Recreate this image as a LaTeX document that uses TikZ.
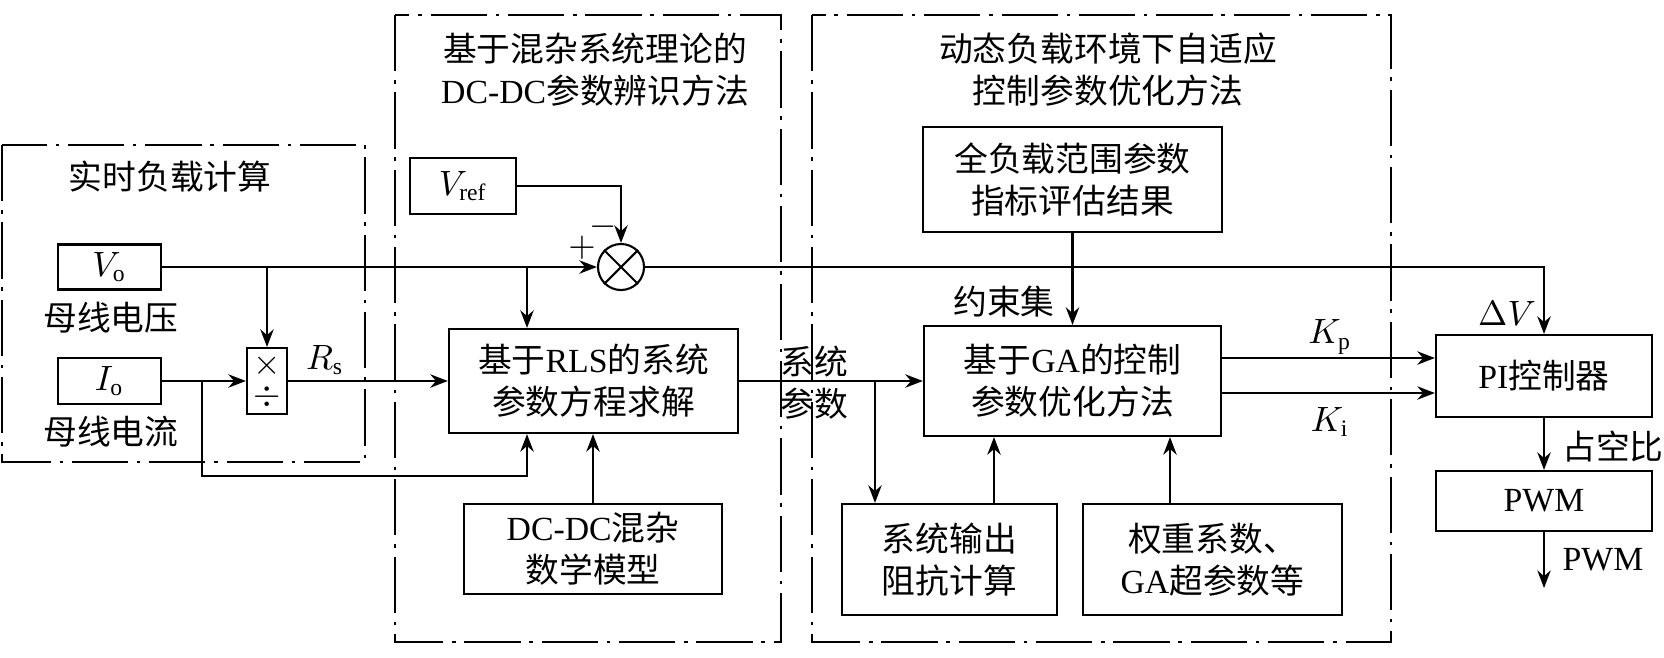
\documentclass[tikz,border=0pt]{standalone}
\usepackage{fontspec}
\setmainfont{Liberation Serif}
\newfontfamily\zhfont{Noto Sans CJK SC}
\newcommand{\en}[1]{{\rmfamily #1}}
\usetikzlibrary{arrows.meta}

\begin{document}
\begin{tikzpicture}[x=0.01cm, y=-0.01cm, line width=0.6pt, font=\fontsize{9.6pt}{11.9pt}\zhfont,
block/.style={draw, inner sep=0pt, align=center},
sum node/.style={circle, draw, minimum size=0.46cm, inner sep=0pt},
dashbox/.style={dash pattern=on 16pt off 2.5pt on 1pt off 2.5pt},
arr/.style={-{Stealth[length=5pt,width=3.8pt]}}]
\useasboundingbox (0,0) rectangle (1664,657);
% dash-dot areas
\draw[dashbox] (2,145) rectangle (365,462);
\draw[dashbox] (395,15) rectangle (781,642);
\draw[dashbox] (812,15) rectangle (1391,642);
\begin{scope}
\node (t1) at (170,177) {实时负载计算};
\node[align=center] (t2) at (595,70) {基于混杂系统理论的\\\en{DC-DC}参数辨识方法};
\node[align=center] (t3) at (1108,70) {动态负载环境下自适应\\控制参数优化方法};
\node[block, minimum width=1.03cm, minimum height=0.45cm] (vo) at (109.5,267) {$V_{\mathrm{o}}$};
\node (vol) at (111,318) {母线电压};
\node[block, minimum width=1.03cm, minimum height=0.46cm] (io) at (109.5,381) {$I_{\mathrm{o}}$};
\node (iol) at (111,432) {母线电流};
\node[block, minimum width=0.40cm, minimum height=0.66cm] (md) at (267,381) {$\times$\\[-3pt]$\div$};
\node (rs) at (325,360) {$R_{\mathrm{s}}$};
\node[block, minimum width=1.06cm, minimum height=0.56cm] (vref) at (463,186) {$V_{\mathrm{ref}}$};
\node[sum node] (sum) at (621,267) {};
\node (plus) at (582,248) {$+$};
\node (minus) at (603,227) {$-$};
\node[block, minimum width=2.89cm, minimum height=1.04cm] (rls) at (593.5,381) {基于\en{RLS}的系统\\参数方程求解};
\node[block, minimum width=2.58cm, minimum height=0.90cm] (dcdc) at (593,549) {\en{DC-DC}混杂\\数学模型};
\node[align=center] (sp) at (814,383) {系统\\参数};
\node[block, minimum width=2.99cm, minimum height=1.05cm] (full) at (1072.5,179.5) {全负载范围参数\\指标评估结果};
\node (ys) at (1004,302) {约束集};
\node[block, minimum width=2.97cm, minimum height=1.10cm] (ga) at (1072.5,381) {基于\en{GA}的控制\\参数优化方法};
\node[block, minimum width=2.15cm, minimum height=1.11cm] (sysout) at (949.5,559.5) {系统输出\\阻抗计算};
\node[block, minimum width=2.59cm, minimum height=1.11cm] (weight) at (1212.5,559.5) {权重系数、\\\en{GA}超参数等};
\node (kp) at (1330,337) {$K_{\mathrm{p}}$};
\node (ki) at (1330,422) {$K_{\mathrm{i}}$};
\node (dv) at (1507,313) {$\Delta V$};
\node[block, minimum width=2.16cm, minimum height=0.82cm] (pi) at (1544,376) {\en{PI}控制器};
\node (zkb) at (1613,447) {占空比};
\node[block, minimum width=2.16cm, minimum height=0.60cm] (pwm) at (1544,501) {\en{PWM}};
\node (pwml) at (1603,560) {\en{PWM}};
\coordinate (pwmout) at (1544,588);
\end{scope}
\begin{scope}
\draw (sum.north west) -- (sum.south east);
\draw (sum.north east) -- (sum.south west);
\draw[arr] (vo.east) -- (sum.west);
\draw[arr] (vo.east -| md.north) -- (md.north);
\draw[arr] (vo.east -| 527,0) -- (rls.north -| 527,0);
\draw[arr] (io.east) -- (md.west);
\draw[arr] (io.east -| 202,0) |- (527,476) -- (rls.south -| 527,0);
\draw[arr] (md.east) -- (rls.west);
\draw[arr] (vref.east) -| (sum.north);
\draw[arr] (dcdc.north) -- (rls.south -| dcdc.north);
\draw[arr] (rls.east) -- (ga.west);
\draw[arr] (rls.east -| 875,0) -- (sysout.north -| 875,0);
\draw[arr] (full.south) -- (ga.north);
\draw[arr] (sysout.north -| 994,0) -- (ga.south -| 994,0);
\draw[arr] (weight.north -| 1170,0) -- (ga.south -| 1170,0);
\draw[arr] (ga.east |- 0,358) -- (pi.west |- 0,358);
\draw[arr] (ga.east |- 0,393) -- (pi.west |- 0,393);
\draw[arr] (sum.east) -| (pi.north);
\draw[arr] (pi.south) -- (pwm.north);
\draw[arr] (pwm.south) -- (pwmout);
\end{scope}
\end{tikzpicture}
\end{document}
